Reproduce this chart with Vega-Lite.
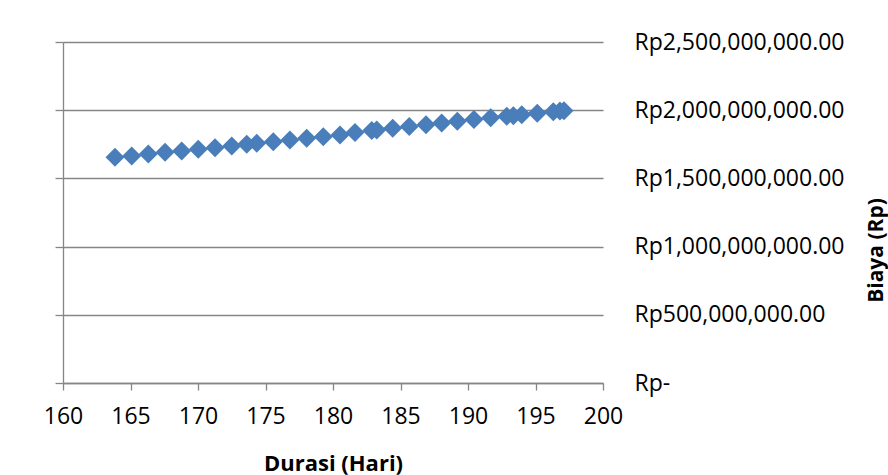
{
  "$schema": "https://vega.github.io/schema/vega-lite/v6.json",
  "width": 540,
  "height": 341,
  "autosize": {"type": "none"},
  "padding": {"left": 63, "top": 42, "right": 285, "bottom": 92},
  "background": "white",
  "config": {
    "view": {"stroke": null},
    "font": "Open Sans"
  },
  "data": {
    "values": [
      {"durasi": 163.85, "biaya": 1655000000},
      {"durasi": 165.09, "biaya": 1664000000},
      {"durasi": 166.32, "biaya": 1679000000},
      {"durasi": 167.56, "biaya": 1691000000},
      {"durasi": 168.79, "biaya": 1701000000},
      {"durasi": 170.02, "biaya": 1713000000},
      {"durasi": 171.26, "biaya": 1725000000},
      {"durasi": 172.50, "biaya": 1738000000},
      {"durasi": 173.61, "biaya": 1750000000},
      {"durasi": 174.35, "biaya": 1757000000},
      {"durasi": 175.58, "biaya": 1769000000},
      {"durasi": 176.81, "biaya": 1782000000},
      {"durasi": 178.05, "biaya": 1794000000},
      {"durasi": 179.28, "biaya": 1806000000},
      {"durasi": 180.52, "biaya": 1818000000},
      {"durasi": 181.63, "biaya": 1837000000},
      {"durasi": 182.87, "biaya": 1851000000},
      {"durasi": 183.24, "biaya": 1855000000},
      {"durasi": 184.42, "biaya": 1867000000},
      {"durasi": 185.65, "biaya": 1880000000},
      {"durasi": 186.89, "biaya": 1893000000},
      {"durasi": 188.05, "biaya": 1906000000},
      {"durasi": 189.21, "biaya": 1919000000},
      {"durasi": 190.44, "biaya": 1932000000},
      {"durasi": 191.68, "biaya": 1944000000},
      {"durasi": 192.87, "biaya": 1955000000},
      {"durasi": 193.36, "biaya": 1960000000},
      {"durasi": 193.98, "biaya": 1966000000},
      {"durasi": 195.13, "biaya": 1977000000},
      {"durasi": 196.32, "biaya": 1989000000},
      {"durasi": 196.81, "biaya": 1994000000},
      {"durasi": 197.11, "biaya": 1996000000}
    ]
  },
  "encoding": {
    "x": {
      "field": "durasi",
      "type": "quantitative",
      "scale": {"domain": [160, 200], "nice": false, "zero": false},
      "axis": {
        "title": "Durasi (Hari)",
        "values": [160, 165, 170, 175, 180, 185, 190, 195, 200],
        "grid": false,
        "labelFlush": false,
        "labelOverlap": false,
        "domainColor": "#868686",
        "domainWidth": 1.3,
        "tickColor": "#868686",
        "tickWidth": 1.3,
        "tickSize": 7,
        "labelFontSize": 23,
        "labelColor": "#000000",
        "labelPadding": 15,
        "titleFontSize": 22,
        "titleFontWeight": "bold",
        "titleColor": "#000000",
        "titlePadding": 25
      }
    }
  },
  "layer": [
    {
      "mark": {"type": "point", "opacity": 0},
      "encoding": {
        "y": {
          "field": "biaya",
          "type": "quantitative",
          "scale": {"domain": [0, 2500000000], "nice": false},
          "axis": {
            "orient": "left",
            "title": null,
            "values": [0, 500000000, 1000000000, 1500000000, 2000000000, 2500000000],
            "labels": false,
            "grid": false,
            "domainColor": "#868686",
            "domainWidth": 1.3,
            "tickColor": "#868686",
            "tickWidth": 1.3,
            "tickSize": 8
          }
        }
      }
    },
    {
      "mark": {"type": "point", "shape": "diamond", "filled": true, "size": 360, "color": "#4a7ebb", "opacity": 1},
      "encoding": {
        "y": {
          "field": "biaya",
          "type": "quantitative",
          "axis": {
            "orient": "right",
            "title": "Biaya (Rp)",
            "values": [0, 500000000, 1000000000, 1500000000, 2000000000, 2500000000],
            "labelExpr": "datum.value == 0 ? 'Rp-' : 'Rp' + format(datum.value, ',.2f')",
            "labelLimit": 0,
            "labelOverlap": false,
            "grid": true,
            "gridColor": "#868686",
            "gridWidth": 1.3,
            "domain": false,
            "ticks": false,
            "labelPadding": 31,
            "labelAlign": "left",
            "labelBaseline": "middle",
            "labelFontSize": 23,
            "labelColor": "#000000",
            "titleFontSize": 21,
            "titleFontWeight": "bold",
            "titleColor": "#000000",
            "titleAngle": -90,
            "titleAlign": "center",
            "titleBaseline": "middle",
            "titleX": 273,
            "titleY": 208
          }
        }
      }
    }
  ],
  "resolve": {"axis": {"y": "independent"}}
}
